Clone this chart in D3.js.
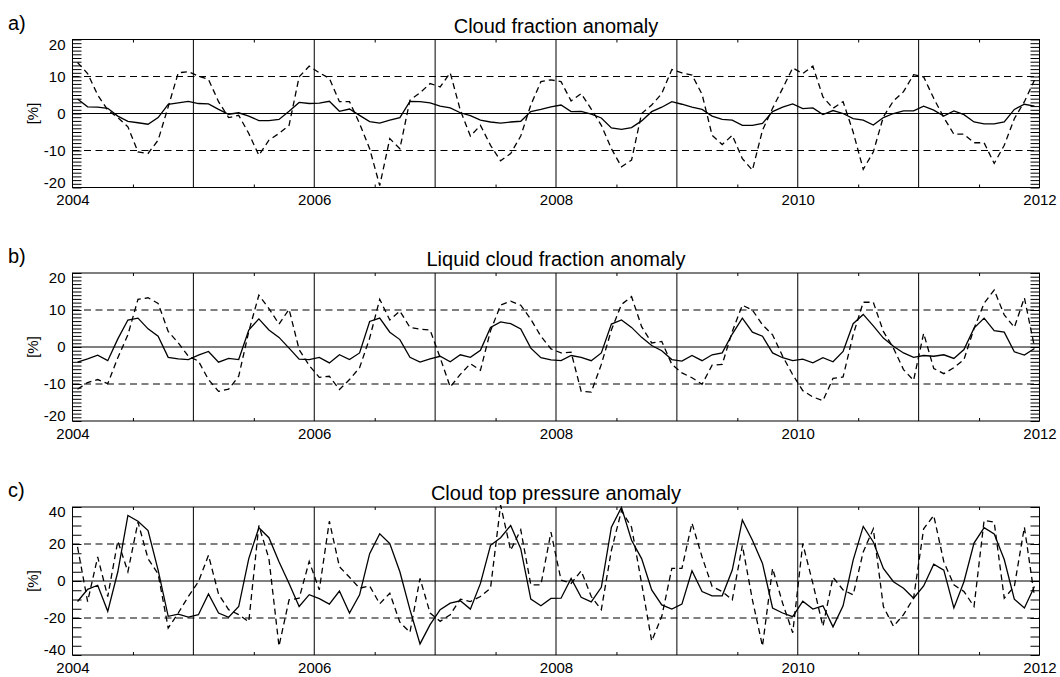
<!DOCTYPE html>
<html>
<head>
<meta charset="utf-8">
<script src="https://cdn.jsdelivr.net/npm/d3@7"></script>
<style>
  body { margin: 0; background: #fff; }
  svg { display: block; }
  text { font-family: "Liberation Sans", Arial, Helvetica, sans-serif; fill: #000; }
</style>
</head>
<body>
<svg id="chart" width="1060" height="677"></svg>
<script>
// Monthly anomalies, Jan 2004 .. Dec 2011 (96 months per series)
const years = [2004, 2005, 2006, 2007, 2008, 2009, 2010, 2011, 2012];
const yearLabels = ["2004", "", "2006", "", "2008", "", "2010", "", "2012"];

const cfTicks = [-20, -10, 0, 10, 20];
const ctpTicks = [-40, -20, 0, 20, 40];

// a) Cloud fraction anomaly
const cfSolid = [
  3.9, 1.8, 1.7, 1.4, -0.7, -2.1, -2.5, -2.9, -1.1, 2.5, 2.9, 3.3,
  2.7, 2.6, 1.1, -0.2, 0.2, -0.7, -1.9, -1.9, -1.6, 0.6, 3.0, 2.7,
  2.8, 3.3, 0.6, 1.2, -0.5, -2.2, -2.6, -1.8, -1.1, 3.3, 3.2, 2.9,
  2.0, 1.5, 0.2, -0.6, -1.8, -2.3, -2.6, -2.3, -2.1, 0.5, 1.1, 1.8,
  2.3, 0.5, 0.6, -0.2, -1.2, -3.9, -4.3, -3.8, -2.0, 0.5, 1.7, 3.2,
  2.5, 1.7, 1.1, -0.7, -1.6, -1.8, -3.2, -3.2, -2.7, 0.5, 1.7, 2.6,
  1.3, 1.5, -0.3, 0.8, 0.0, -1.4, -1.8, -3.1, -1.1, 0.0, 0.7, 0.7,
  2.0, 0.9, -0.7, 0.7, -0.3, -2.3, -2.8, -2.8, -2.3, 1.1, 2.5, 2.0
];
const cfDashed = [
  13.8, 10.8, 5.0, 0.9, -1.1, -3.6, -10.4, -10.8, -7.2, 1.8, 11.0, 11.3,
  10.1, 9.2, 3.2, -1.1, -0.5, -5.4, -11.3, -7.2, -5.4, -3.2, 9.9, 12.8,
  11.0, 9.5, 3.2, 3.2, -2.7, -9.5, -19.5, -6.8, -9.5, 3.6, 5.6, 8.1,
  7.2, 11.0, 0.9, -6.1, -3.2, -8.6, -12.8, -10.8, -6.1, 2.3, 8.6, 9.1,
  8.6, 3.4, 5.4, 1.2, -3.2, -9.5, -14.4, -12.6, 0.0, 2.3, 5.4, 11.9,
  11.0, 10.4, 5.2, -5.9, -8.4, -5.9, -12.2, -15.3, -4.5, 1.4, 6.8, 12.3,
  10.8, 12.8, 4.5, 1.4, 3.2, -5.0, -15.1, -10.4, -0.9, 3.4, 5.9, 10.5,
  9.9, 4.1, -1.1, -5.6, -5.6, -7.9, -7.9, -13.5, -8.6, -1.4, 3.2, 9.0
];

// b) Liquid cloud fraction anomaly
const lcfSolid = [
  -4.1, -3.2, -2.2, -3.7, 2.2, 7.3, 7.8, 4.9, 2.9, -2.8, -3.2, -3.4,
  -2.2, -1.2, -4.1, -3.1, -3.4, 4.6, 7.6, 4.6, 2.6, -0.3, -3.3, -3.4,
  -2.8, -4.3, -2.1, -3.4, -1.6, 6.9, 7.8, 4.0, 2.0, -2.8, -4.1, -3.2,
  -2.5, -4.0, -2.1, -2.8, -0.9, 5.3, 6.8, 6.3, 4.9, -0.3, -2.9, -3.5,
  -3.7, -2.3, -2.8, -3.7, -1.6, 6.2, 7.3, 5.3, 2.6, 0.4, -1.0, -3.4,
  -3.8, -2.3, -3.7, -2.1, -1.6, 3.5, 7.8, 4.0, 2.9, -1.6, -2.9, -3.7,
  -3.3, -4.3, -2.9, -4.0, -1.2, 6.3, 8.8, 5.7, 2.4, 0.2, -1.6, -2.8,
  -2.3, -2.5, -2.1, -3.1, -0.7, 5.1, 7.8, 4.4, 4.0, -1.3, -2.2, -0.4
];
const lcfDashed = [
  -11.4, -9.6, -8.8, -9.9, -2.9, 3.3, 12.9, 13.3, 11.8, 4.2, 1.1, -2.5,
  -3.8, -8.8, -12.0, -11.4, -7.9, 4.2, 14.0, 10.4, 6.2, 10.2, -0.7, -5.0,
  -8.2, -7.9, -11.5, -8.8, -5.6, 2.4, 12.9, 7.3, 9.7, 5.3, 4.8, 4.6,
  -2.9, -10.8, -7.4, -4.5, -6.3, 4.4, 11.3, 12.4, 11.3, 7.5, 2.9, -0.5,
  -1.6, -1.4, -12.0, -12.2, -4.7, 4.6, 11.5, 13.6, 5.5, 1.1, 1.5, -4.7,
  -7.0, -8.3, -10.1, -4.9, -4.7, 4.2, 11.3, 10.0, 6.0, 3.3, -2.5, -7.5,
  -11.8, -13.5, -14.5, -8.5, -8.1, 3.3, 12.1, 12.1, 4.2, -0.3, -6.1, -9.0,
  3.7, -5.8, -7.2, -5.6, -3.4, 5.0, 11.8, 15.4, 8.7, 5.3, 13.3, 0.0
];

// c) Cloud top pressure anomaly
const ctpSolid = [
  -11.1, -4.5, -2.3, -16.4, 5.0, 35.4, 32.3, 27.3, 5.9, -19.1, -17.9, -19.5,
  -18.2, -7.0, -17.3, -19.6, -13.8, 12.1, 28.8, 23.4, 10.4, -1.3, -13.8, -7.4,
  -9.5, -12.5, -5.4, -17.3, -7.5, 14.8, 25.5, 20.2, 5.0, -15.5, -34.0, -23.6,
  -15.5, -12.0, -10.7, -15.2, -1.3, 19.3, 23.4, 30.0, 17.5, -9.8, -13.4, -9.4,
  -9.3, 1.4, -8.8, -11.3, -3.4, 29.1, 39.8, 22.0, 12.1, -4.8, -12.9, -15.2,
  -12.5, 5.5, -5.7, -8.0, -8.0, 5.9, 33.0, 22.0, 9.5, -14.6, -17.3, -19.3,
  -10.9, -15.2, -13.4, -24.8, -13.4, 11.3, 29.5, 21.1, 6.8, -0.4, -3.9, -9.3,
  -2.7, 9.1, 5.9, -14.6, -0.4, 20.5, 28.8, 25.5, 11.6, -9.8, -14.6, -3.0
];
const ctpDashed = [
  18.4, -11.1, 13.0, -8.4, 21.6, 5.0, 31.8, 12.1, 3.8, -25.4, -17.3, -8.4,
  -0.4, 13.9, -7.1, -15.5, -18.2, -22.0, 30.0, 12.1, -35.2, -10.2, -9.3, 10.6,
  -4.8, 32.3, 7.7, 2.0, -3.9, -2.7, -12.3, -6.6, -22.3, -27.7, 1.4, -17.3,
  -21.8, -18.2, -9.8, -11.1, -8.4, -3.9, 41.0, 16.6, 27.7, -2.1, -2.1, 26.4,
  0.5, -1.3, 5.5, -8.4, -15.5, 16.6, 38.0, 29.1, -1.3, -32.5, -19.1, 6.8,
  6.8, 31.3, 13.0, -3.0, -5.7, -10.2, 19.3, -10.2, -35.2, 6.8, -12.0, -28.0,
  20.2, -1.3, -24.5, 2.0, -4.8, -7.5, 15.7, 28.2, -13.8, -24.5, -18.2, -9.3,
  28.2, 35.4, 10.4, -2.1, -5.7, -13.8, 32.7, 31.8, -9.3, -3.0, 29.1, -8.4
];

const panels = [
  { tag: "a)", title: "Cloud fraction anomaly", solid: cfSolid, dashed: cfDashed,
    ticks: cfTicks, minor: 1, ref: 10, top: 39.5 },
  { tag: "b)", title: "Liquid cloud fraction anomaly", solid: lcfSolid, dashed: lcfDashed,
    ticks: cfTicks, minor: 1, ref: 10, top: 273 },
  { tag: "c)", title: "Cloud top pressure anomaly", solid: ctpSolid, dashed: ctpDashed,
    ticks: ctpTicks, minor: 5, ref: 20, top: 507 }
];

const svg = d3.select("#chart");
const left = 72.5, right = 1039.5, height = 148;
const x = d3.scaleLinear().domain([2004, 2012]).range([left, right]);
const monthTime = i => 2004 + (i + 0.5) / 12;
const halfYears = d3.range(2004.5, 2012, 1);
const fontFam = "'Liberation Sans', Arial, Helvetica, sans-serif";

panels.forEach(p => {
  const g = svg.append("g");
  const lo = p.ticks[0], hi = p.ticks[p.ticks.length - 1];
  const y = d3.scaleLinear().domain([lo, hi]).range([p.top + height, p.top]);
  const bottom = p.top + height;

  // year grid lines
  g.append("g").selectAll("line").data(years.slice(1, -1)).join("line")
    .attr("x1", d => x(d)).attr("x2", d => x(d))
    .attr("y1", p.top).attr("y2", bottom)
    .attr("stroke", "#000").attr("stroke-width", 1);

  // reference lines: zero solid, +/- ref dashed
  g.append("line").attr("x1", left).attr("x2", right)
    .attr("y1", y(0)).attr("y2", y(0)).attr("stroke", "#000").attr("stroke-width", 1);
  [-p.ref, p.ref].forEach(v => {
    g.append("line").attr("x1", left).attr("x2", right)
      .attr("y1", y(v)).attr("y2", y(v))
      .attr("stroke", "#000").attr("stroke-width", 1).attr("stroke-dasharray", "7,4.5");
  });

  // minor y ticks on both sides
  const minorVals = d3.range(lo, hi + 0.001, p.minor);
  g.append("g").attr("transform", `translate(${left},0)`)
    .call(d3.axisLeft(y).tickValues(minorVals).tickSize(-9).tickFormat(""))
    .call(a => a.select(".domain").remove())
    .call(a => a.selectAll("line").attr("stroke-width", 1));
  g.append("g").attr("transform", `translate(${right},0)`)
    .call(d3.axisRight(y).tickValues(minorVals).tickSize(-9).tickFormat(""))
    .call(a => a.select(".domain").remove())
    .call(a => a.selectAll("line").attr("stroke-width", 1));

  // y labels; the end labels are kept inside the frame height
  g.append("g").attr("transform", `translate(${left},0)`)
    .call(d3.axisLeft(y).tickValues(p.ticks).tickSize(0).tickPadding(7).tickFormat(d => String(d)))
    .call(a => a.select(".domain").remove())
    .call(a => a.selectAll("text").attr("font-size", 15)
      .attr("font-family", fontFam).attr("fill", "#000")
      .attr("transform", d => d === hi ? "translate(0,5)" : d === lo ? "translate(0,-5)" : null));

  // half-year minor ticks, top and bottom
  g.append("g").attr("transform", `translate(0,${bottom})`)
    .call(d3.axisBottom(x).tickValues(halfYears).tickSize(-3).tickFormat(""))
    .call(a => a.select(".domain").remove());
  g.append("g").attr("transform", `translate(0,${p.top})`)
    .call(d3.axisTop(x).tickValues(halfYears).tickSize(-3).tickFormat(""))
    .call(a => a.select(".domain").remove());

  // x labels
  g.append("g").attr("transform", `translate(0,${bottom})`)
    .call(d3.axisBottom(x).tickValues(years).tickSize(0).tickPadding(7)
      .tickFormat((d, i) => yearLabels[i]))
    .call(a => a.select(".domain").remove())
    .call(a => a.selectAll("text").attr("font-size", 15)
      .attr("font-family", fontFam).attr("fill", "#000"));

  // frame
  g.append("rect").attr("x", left).attr("y", p.top)
    .attr("width", right - left).attr("height", height)
    .attr("fill", "none").attr("stroke", "#000").attr("stroke-width", 1);

  // data lines
  const line = d3.line().x((d, i) => x(monthTime(i))).y(d => y(d));
  g.append("path").datum(p.solid).attr("d", line)
    .attr("fill", "none").attr("stroke", "#000").attr("stroke-width", 1.3);
  g.append("path").datum(p.dashed).attr("d", line)
    .attr("fill", "none").attr("stroke", "#000").attr("stroke-width", 1.3)
    .attr("stroke-dasharray", "6,4");

  // texts
  g.append("text").attr("x", (left + right) / 2).attr("y", p.top - 7)
    .attr("text-anchor", "middle").attr("font-size", 20).text(p.title);
  g.append("text").attr("x", 8).attr("y", p.top - 10)
    .attr("font-size", 20).text(p.tag);
  g.append("text")
    .attr("transform", `translate(38,${y(0)}) rotate(-90)`)
    .attr("text-anchor", "middle").attr("font-size", 15).text("[%]");
});
</script>
</body>
</html>
